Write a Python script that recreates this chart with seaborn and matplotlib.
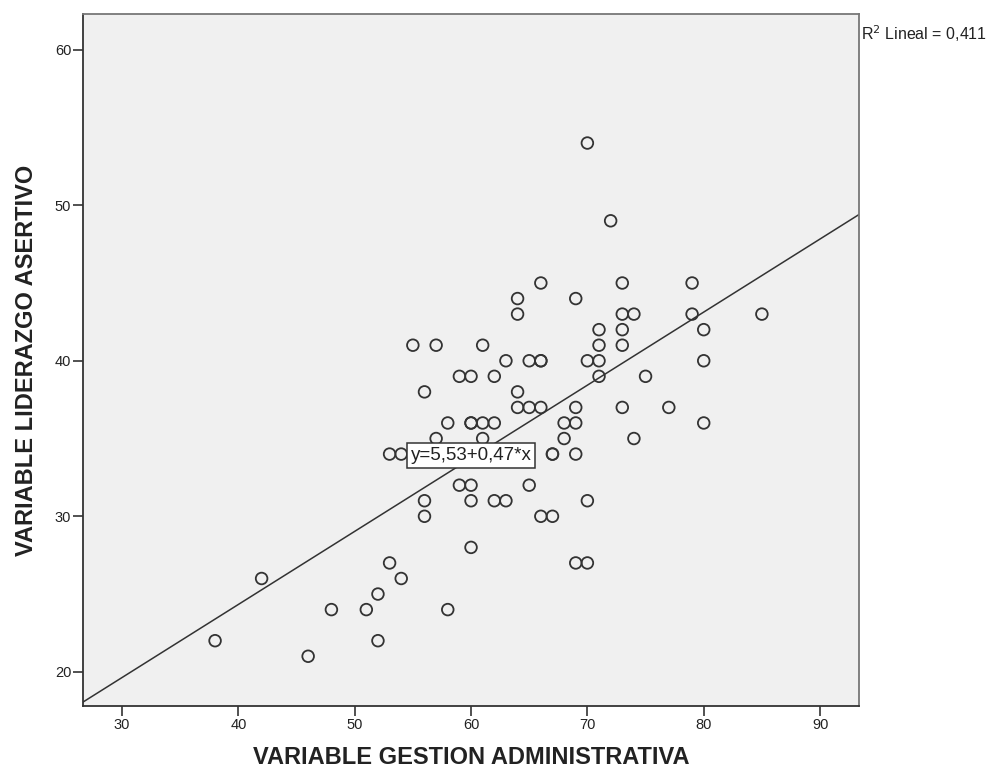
import numpy as np
import pandas as pd
import matplotlib
matplotlib.use("Agg")
import matplotlib.pyplot as plt
import seaborn as sns

# puntos (x = gestion administrativa, y = liderazgo asertivo)
gestion = [38, 42, 46, 48, 51, 52, 52, 53, 54, 58,
           53, 54, 55, 56, 56, 56, 57, 57, 58,
           59, 60, 59, 60, 60, 60, 60, 60,
           61, 61, 62, 61, 62, 62, 63, 63,
           64, 64, 64, 64, 65, 65, 65, 66, 66, 66, 66,
           66, 67, 67, 67, 68, 68, 69, 69, 69, 69,
           69, 70, 70, 70, 70, 71, 71, 71, 71, 72,
           73, 73, 73, 73, 73, 74, 74, 75, 77,
           79, 79, 80, 80, 80, 85]
liderazgo = [22, 26, 21, 24, 24, 25, 22, 27, 26, 24,
             34, 34, 41, 38, 31, 30, 41, 35, 36,
             39, 39, 32, 32, 36, 36, 31, 28,
             41, 36, 36, 35, 39, 31, 31, 40,
             44, 43, 38, 37, 37, 40, 32, 40, 40, 45, 37,
             30, 30, 34, 34, 35, 36, 36, 37, 34, 44,
             27, 27, 54, 40, 31, 42, 41, 40, 39, 49,
             45, 43, 42, 41, 37, 43, 35, 39, 37,
             45, 43, 42, 40, 36, 43]

intercepto = 5.53
pendiente = 0.47
r2 = 0.411

x_ticks = [30, 40, 50, 60, 70, 80, 90]
y_ticks = [20, 30, 40, 50, 60]

df = pd.DataFrame({"gestion": gestion, "liderazgo": liderazgo})

sns.set_style("ticks")
plt.rcParams["font.family"] = ["Liberation Sans", "DejaVu Sans"]

fig = plt.figure(figsize=(9.93, 7.75), dpi=100)
ax = fig.add_axes([0.0836, 0.089, 0.7815, 0.893])
ax.set_facecolor("#f0f0f0")

sns.scatterplot(data=df, x="gestion", y="liderazgo", ax=ax,
                marker="o", s=70, facecolor="none",
                edgecolor="#333333", linewidth=1.3, zorder=3)

# recta de ajuste lineal
ax.axline((0, intercepto), slope=pendiente, color="#333333", lw=1.1, zorder=2)

ax.set_xlim(26.65, 93.35)
ax.set_ylim(17.8, 62.3)
ax.set_xticks(x_ticks)
ax.set_yticks(y_ticks)
ax.tick_params(direction="out", length=7, width=1.2, color="#333333",
               labelsize=10.5, labelcolor="#222222", pad=1.5)

for side in ["left", "bottom"]:
    ax.spines[side].set_color("#333333")
    ax.spines[side].set_linewidth(1.3)
for side in ["top", "right"]:
    ax.spines[side].set_visible(True)
    ax.spines[side].set_color("#777777")
    ax.spines[side].set_linewidth(1.3)

ax.set_xlabel("VARIABLE GESTION ADMINISTRATIVA", fontsize=17,
              fontweight="bold", labelpad=10, color="#222222")
ax.set_ylabel("VARIABLE LIDERAZGO ASERTIVO", fontsize=17,
              fontweight="bold", labelpad=12, color="#222222")

ax.text(60, 33.9, "y=5,53+0,47*x", fontsize=13.5, ha="center", va="center",
        color="#222222", zorder=4,
        bbox=dict(boxstyle="square,pad=0.2", facecolor="white",
                  edgecolor="#333333", linewidth=1.1))

ax.text(1.003, 0.972, f"R$^2$ Lineal = {r2:.3f}".replace(".", ","),
        transform=ax.transAxes,
        fontsize=11.5, ha="left", va="center", color="#222222")

fig.savefig("out.png", dpi=100)
